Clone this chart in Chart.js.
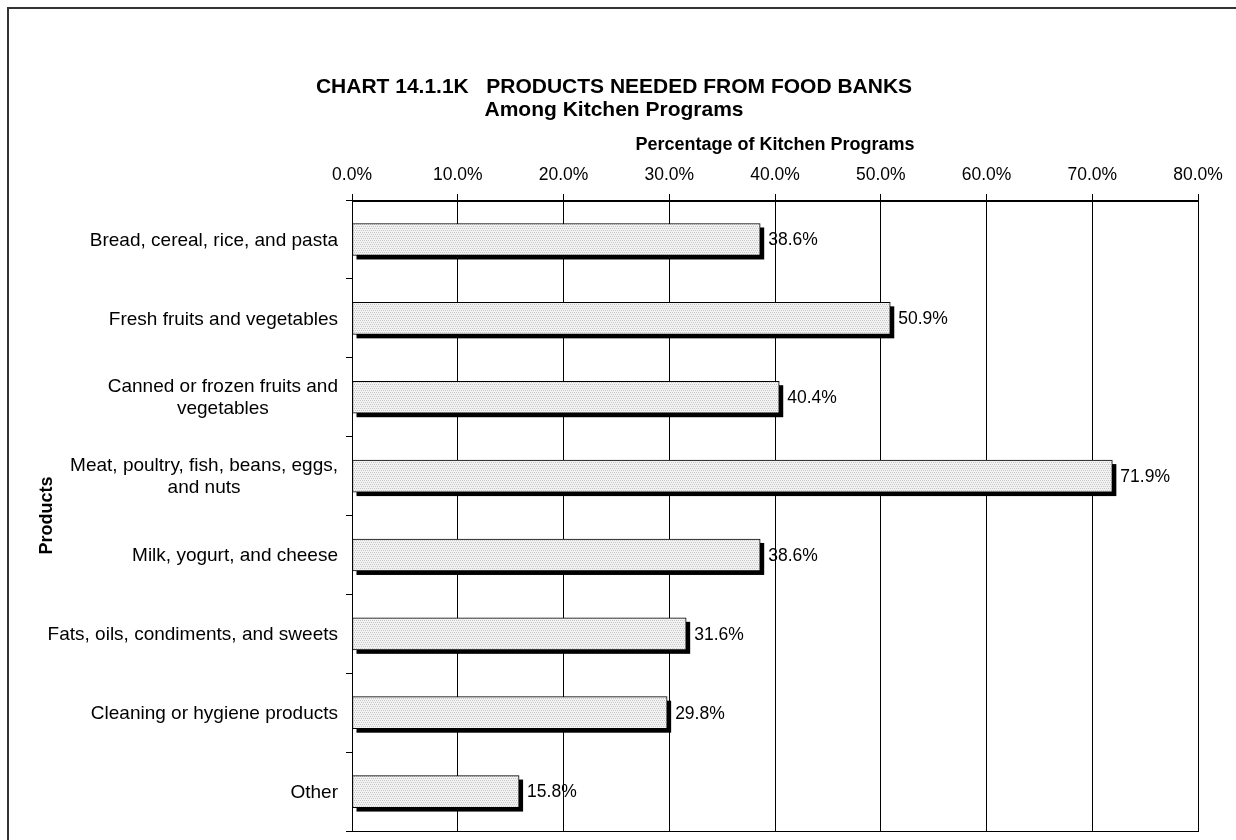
<!DOCTYPE html>
<html>
<head>
<meta charset="utf-8">
<script src="https://cdn.jsdelivr.net/npm/chart.js@4.4.1/dist/chart.umd.min.js"></script>
<style>
  html, body { margin: 0; padding: 0; background: #fff; }
  canvas { display: block; }
</style>
</head>
<body>
<canvas id="foodChart" width="1236" height="840"></canvas>
<script>
// 数据
const categories = [
    ['Bread, cereal, rice, and pasta'],
    ['Fresh fruits and vegetables'],
    ['Canned or frozen fruits and', 'vegetables'],
    ['Meat, poultry, fish, beans, eggs,', 'and nuts'],
    ['Milk, yogurt, and cheese'],
    ['Fats, oils, condiments, and sweets'],
    ['Cleaning or hygiene products'],
    ['Other']
];
const percentValues = [38.6, 50.9, 40.4, 71.9, 38.6, 31.6, 29.8, 15.8];
const titleLines = ['CHART 14.1.1K   PRODUCTS NEEDED FROM FOOD BANKS', 'Among Kitchen Programs'];
const xAxisTitle = 'Percentage of Kitchen Programs';
const yAxisTitle = 'Products';

const FONT = '"Liberation Sans", Arial, sans-serif';
Chart.defaults.font.family = FONT;
Chart.defaults.color = '#000';

// 点状填充图案
function makePattern() {
    const p = document.createElement('canvas');
    p.width = 4; p.height = 4;
    const pc = p.getContext('2d');
    pc.fillStyle = '#f2f2f2';
    pc.fillRect(0, 0, 4, 4);
    pc.fillStyle = '#c8c8c8';
    pc.fillRect(0, 0, 1, 1);
    pc.fillRect(2, 0, 1, 1);
    pc.fillRect(1, 2, 1, 1);
    pc.fillRect(3, 2, 1, 1);
    return document.getElementById('foodChart').getContext('2d').createPattern(p, 'repeat');
}

// 外框、阴影、数值标签、分类标签
const decorPlugin = {
    id: 'decor',
    beforeDraw(chart) {
        const c = chart.ctx;
        c.save();
        c.fillStyle = '#fff';
        c.fillRect(0, 0, chart.width, chart.height);
        c.strokeStyle = '#333';
        c.lineWidth = 2;
        c.beginPath();
        c.moveTo(8, chart.height);
        c.lineTo(8, 8);
        c.lineTo(chart.width, 8);
        c.stroke();
        c.restore();
    },
    beforeDatasetsDraw(chart) {
        const c = chart.ctx;
        c.save();
        c.fillStyle = '#000';
        chart.getDatasetMeta(0).data.forEach(bar => {
            const p = bar.getProps(['x', 'y', 'base', 'height'], true);
            c.fillRect(p.base + 4, p.y - p.height / 2 + 4, p.x - p.base, p.height);
        });
        c.restore();
    },
    afterDatasetsDraw(chart) {
        const c = chart.ctx;
        c.save();
        c.font = '17.5px ' + FONT;
        c.fillStyle = '#000';
        c.textAlign = 'left';
        c.textBaseline = 'middle';
        chart.getDatasetMeta(0).data.forEach((bar, i) => {
            const p = bar.getProps(['x', 'y'], true);
            c.fillText(percentValues[i].toFixed(1) + '%', p.x + 8, p.y + 1);
        });
        // 分类标签：多行居中，整体右对齐
        const yScale = chart.scales.y;
        const right = chart.chartArea.left - 14;
        c.font = '19px ' + FONT;
        c.textAlign = 'center';
        const lh = 22;
        categories.forEach((lines, i) => {
            const cy = yScale.getPixelForTick(i);
            const w = Math.max(...lines.map(t => c.measureText(t).width));
            const cx = right - w / 2;
            lines.forEach((t, k) => {
                c.fillText(t, cx, cy + (k - (lines.length - 1) / 2) * lh + 1);
            });
        });
        c.restore();
    },
    afterDraw(chart) {
        const a = chart.chartArea;
        const c = chart.ctx;
        c.save();
        c.strokeStyle = '#000';
        c.lineWidth = 1;
        c.strokeRect(a.left + 0.5, a.top + 0.5, a.right - a.left, a.bottom - a.top);
        c.lineWidth = 2;
        c.beginPath();
        c.moveTo(a.left, a.top + 1);
        c.lineTo(a.right, a.top + 1);
        c.stroke();
        c.restore();
    }
};

const foodChart = new Chart(document.getElementById('foodChart'), {
    type: 'bar',
    data: {
        labels: categories,
        datasets: [{
            data: percentValues,
            backgroundColor: makePattern(),
            borderColor: '#000',
            borderWidth: 1,
            borderSkipped: false,
            barThickness: 32
        }]
    },
    options: {
        indexAxis: 'y',
        responsive: false,
        animation: false,
        layout: { padding: { left: 30, right: 38, top: 0, bottom: 9 } },
        plugins: {
            legend: { display: false },
            tooltip: { enabled: false },
            title: {
                display: true,
                text: titleLines,
                font: { size: 21, weight: 'bold', lineHeight: 1.12 },
                color: '#000',
                padding: { top: 75, bottom: 0 }
            }
        },
        scales: {
            x: {
                position: 'top',
                min: 0,
                max: 80,
                afterFit(s) { s.height = 200 - 122; },
                ticks: {
                    stepSize: 10,
                    padding: 8,
                    font: { size: 17.5 },
                    color: '#000',
                    callback: v => v.toFixed(1) + '%'
                },
                grid: { color: '#000', lineWidth: 1, tickLength: 6, drawTicks: true },
                border: { display: true, color: '#000' },
                title: {
                    display: true,
                    text: xAxisTitle,
                    font: { size: 18, weight: 'bold' },
                    color: '#000',
                    padding: { top: 12, bottom: 0 }
                }
            },
            y: {
                afterFit(s) { s.width = 322; },
                ticks: { display: false },
                grid: { drawOnChartArea: false, drawTicks: true, tickLength: 6, color: '#000', offset: true },
                border: { display: true, color: '#000' },
                title: {
                    display: true,
                    text: yAxisTitle,
                    font: { size: 18, weight: 'bold' },
                    color: '#000',
                    padding: { top: 6, bottom: 0 }
                }
            }
        }
    },
    plugins: [decorPlugin]
});
</script>
</body>
</html>
